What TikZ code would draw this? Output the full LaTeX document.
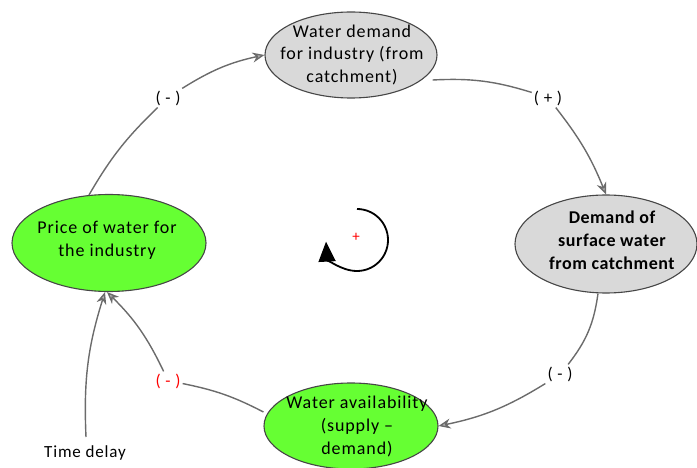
\documentclass[tikz,border=0pt]{standalone}
\usepackage{fontspec}
\setmainfont{Carlito}
\newfontfamily\spaced[LetterSpace=5]{Carlito}
\newfontfamily\spacedb[LetterSpace=3]{Carlito Bold}
\usetikzlibrary{arrows.meta,shapes.geometric}
\definecolor{grn}{RGB}{102,255,51}
\definecolor{gry}{RGB}{217,217,217}
\definecolor{edge}{RGB}{70,70,70}
\tikzset{
  ell/.style={ellipse, draw=edge, line width=1.1pt, inner sep=0pt},
  txt/.style={align=center, inner sep=0pt, font=\spaced\fontsize{18}{23}\selectfont},
  lnk/.style={draw=edge!80, line width=1.4pt, -{Stealth[length=12pt,width=10pt,open,fill=edge!40]}},
  plain/.style={draw=edge!80, line width=1.4pt},
  lab/.style={font=\spaced\fontsize{17}{20}\selectfont, inner sep=2pt},
}
\begin{document}
\begin{tikzpicture}[x=1pt,y=-1pt]
\useasboundingbox (0,0) rectangle (697,468);
\node[ell, fill=gry, minimum width=172, minimum height=86] (top) at (351,55) {};
\node[txt] (toptxt) at (352,55) {Water demand\\for industry (from\\catchment)};
\node[ell, fill=gry, minimum width=182, minimum height=98] (right) at (606,244) {};
\node[txt, font=\spacedb\fontsize{18}{23}\selectfont] (righttxt) at (612,240) {Demand of\\surface water\\from catchment};
\node[ell, fill=grn, minimum width=194, minimum height=97] (left) at (109,243) {};
\node[txt] (lefttxt) at (107,240) {Price of water for\\the industry};
\node[ell, fill=grn, minimum width=174, minimum height=86] (bot) at (351,426) {};
\node[txt] (bottxt) at (357,426) {Water availability\\(supply –\\demand)};

\node[lab] (l1) at (168,98) {( - )};
\node[lab] (l2) at (548,98) {( + )};
\node[lab] (l3) at (560,374) {( - )};
\node[lab, text=red] (l4) at (168,381) {( - )};
\node[lab] (td) at (85,453) {Time delay};
\coordinate (tds) at (86,437);

\draw[plain] (left.north) ++(-20,1) to[bend left=8] (l1);
\draw[lnk] (l1) to[bend left=10] (top.west);
\draw[plain] (top.east) ++(-5,25) to[bend left=10] (l2);
\draw[lnk] (l2) to[bend left=8] (right.north);
\draw[plain] (right.south) ++(-8,0) to[bend left=15] (l3);
\draw[lnk] (l3) to[bend left=10] (bot.east);
\draw[plain] (bot.west) ++(0,-14) to[bend right=8] (l4);
\draw[lnk] (l4) to[bend right=10] ([xshift=-2]left.south);
\draw[lnk] (tds) to[bend left=10] ([xshift=-4]left.south);

\coordinate (cc) at (357,240);
\draw[line width=1.8pt, -{Triangle[length=20pt,width=17pt]}] (357,209) arc[start angle=-90, end angle=177, radius=31];
\node[text=red, font=\fontsize{15}{15}\selectfont] (plus) at (356,237) {+};
\end{tikzpicture}
\end{document}
